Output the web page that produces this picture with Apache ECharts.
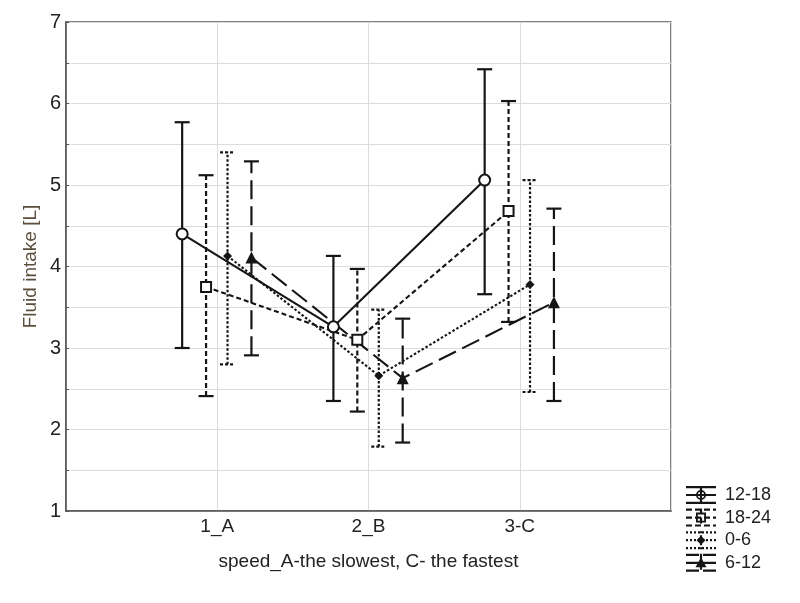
<!DOCTYPE html>
<html>
<head>
<meta charset="utf-8">
<script src="https://cdn.jsdelivr.net/npm/echarts@6/dist/echarts.min.js"></script>
<style>html,body{margin:0;padding:0;background:#fff}#chart{width:800px;height:603px}</style>
</head>
<body>
<div id="chart"></div>
<script>
// ---- data ----
const categories = ['1_A', '2_B', '3-C'];
const groups = ['12-18', '18-24', '0-6', '6-12'];
const yTicks = [1, 2, 3, 4, 5, 6, 7];

const mean_12_18  = [4.40, 3.26, 5.06];
const lower_12_18 = [3.00, 2.35, 3.66];
const upper_12_18 = [5.77, 4.13, 6.42];

const mean_18_24  = [3.75, 3.10, 4.68];
const lower_18_24 = [2.41, 2.22, 3.32];
const upper_18_24 = [5.12, 3.97, 6.03];

const mean_0_6  = [4.13, 2.66, 3.78];
const lower_0_6 = [2.80, 1.79, 2.46];
const upper_0_6 = [5.40, 3.47, 5.06];

const mean_6_12  = [4.11, 2.63, 3.56];
const lower_6_12 = [2.91, 1.84, 2.35];
const upper_6_12 = [5.29, 3.36, 4.71];

// ---- layout / style ----
const offsets = [-0.232, -0.074, 0.068, 0.226];
const INK = '#151515';
const dashes = [null, [5, 3], [2.5, 2], [19, 7]];
const symbols = ['circle', 'rect', 'diamond', 'triangle'];
const symbolSizes = [11, 10, 9, 12];
const hollow = [true, true, false, false];
const FONT = 'Liberation Sans, Arial, sans-serif';

const means = [mean_12_18, mean_18_24, mean_0_6, mean_6_12];
const lowers = [lower_12_18, lower_18_24, lower_0_6, lower_6_12];
const uppers = [upper_12_18, upper_18_24, upper_0_6, upper_6_12];

// legend icon builder (30 x 18 box)
function hseg(y0, y1, segs) {
  return segs.map(s => `M${s[0]} ${y0}H${s[1]}V${y1}H${s[0]}Z`).join('');
}
function vseg(x0, x1, segs) {
  return segs.map(s => `M${x0} ${s[0]}H${x1}V${s[1]}H${x0}Z`).join('');
}
function segsOf(len, dash, gap) {
  if (!dash) return [[0, len]];
  const out = []; let p = 0;
  while (p < len) { out.push([p, Math.min(len, p + dash)]); p += dash + gap; }
  return out;
}
function iconFor(i) {
  const d = [null, [6, 3], [2, 2], [13, 4]][i];
  const h = d ? segsOf(30, d[0], d[1]) : segsOf(30);
  const v = d ? segsOf(18, Math.min(d[0], 6), d[1]) : segsOf(18);
  let p = hseg(0, 2.2, h) + hseg(15.8, 18, h) + hseg(7.9, 10.1, h) + vseg(13.9, 16.1, v);
  if (i === 0) {
    p += 'M20 9A5 5 0 1 1 10 9A5 5 0 1 1 20 9Z';
    p += 'M18.2 9A3.2 3.2 0 1 0 11.8 9A3.2 3.2 0 1 0 18.2 9Z';
  } else if (i === 1) {
    p += 'M10 4H20V14H10Z';
    p += 'M11.8 5.8V12.2H18.2V5.8Z';
  } else if (i === 2) {
    p += 'M15 4.5L19.5 9L15 13.5L10.5 9Z';
  } else {
    p += 'M15 3.5L20.5 13.5H9.5Z';
  }
  return 'path://' + p;
}

const series = [];
groups.forEach((g, i) => {
  const pts = categories.map((c, k) => [k + 1 + offsets[i], means[i][k]]);
  const bars = categories.map((c, k) => [k + 1 + offsets[i], lowers[i][k], uppers[i][k]]);
  series.push({
    name: g,
    type: 'custom',
    z: 2,
    data: bars,
    renderItem: function (params, api) {
      const x = api.value(0);
      const lo = api.coord([x, api.value(1)]);
      const hi = api.coord([x, api.value(2)]);
      const w = 7.5;
      const st = { stroke: INK, lineWidth: 2.2, lineDash: dashes[i] || null, fill: null };
      const capSt = { stroke: INK, lineWidth: 2.2, fill: null, lineDash: i === 2 ? [3, 2] : null };
      return {
        type: 'group',
        children: [
          { type: 'line', shape: { x1: lo[0], y1: lo[1], x2: hi[0], y2: hi[1] }, style: st },
          { type: 'line', shape: { x1: lo[0] - w, y1: lo[1], x2: lo[0] + w, y2: lo[1] }, style: capSt },
          { type: 'line', shape: { x1: hi[0] - w, y1: hi[1], x2: hi[0] + w, y2: hi[1] }, style: capSt }
        ]
      };
    }
  });
  series.push({
    name: g,
    type: 'line',
    z: 3,
    data: pts,
    symbol: symbols[i],
    symbolSize: symbolSizes[i],
    showAllSymbol: true,
    lineStyle: { color: INK, width: 2.1, type: dashes[i] || 'solid' },
    itemStyle: hollow[i]
      ? { color: '#fff', borderColor: INK, borderWidth: 2 }
      : { color: INK, borderColor: INK, borderWidth: 0 },
    emphasis: { disabled: true },
    animation: false
  });
});

const chart = echarts.init(document.getElementById('chart'));
chart.setOption({
  animation: false,
  backgroundColor: '#fff',
  textStyle: { fontFamily: FONT },
  grid: {
    left: 66, right: 129, top: 22, bottom: 92,
    show: true, borderColor: '#555', borderWidth: 1.5, backgroundColor: 'transparent'
  },
  legend: {
    orient: 'vertical',
    left: 686,
    top: 486,
    padding: 0,
    itemWidth: 30,
    itemHeight: 18,
    itemGap: 4.6,
    selectedMode: false,
    textStyle: { fontSize: 18, color: '#222', fontFamily: FONT, padding: [0, 0, 0, 4] },
    data: groups.map((g, i) => ({
      name: g,
      icon: iconFor(i),
      itemStyle: { color: INK, borderWidth: 0 }
    }))
  },
  xAxis: {
    type: 'value',
    min: 0,
    max: categories.length + 1,
    interval: 1,
    name: 'speed_A-the slowest, C- the fastest',
    nameLocation: 'middle',
    nameGap: 41,
    nameMoveOverlap: false,
    nameTextStyle: { fontSize: 19, color: '#222', fontFamily: FONT },
    axisLine: { show: true, lineStyle: { color: '#555', width: 1.5 } },
    axisTick: { show: false },
    axisLabel: {
      fontSize: 19, color: '#222', margin: 6, fontFamily: FONT,
      formatter: v => (v >= 1 && v <= categories.length ? categories[v - 1] : '')
    },
    splitLine: { show: true, lineStyle: { color: '#dcdcdc', width: 1 } }
  },
  yAxis: {
    type: 'value',
    min: yTicks[0],
    max: yTicks[yTicks.length - 1],
    interval: 0.5,
    name: 'Fluid intake [L]',
    nameLocation: 'middle',
    nameGap: 26,
    nameRotate: 90,
    nameMoveOverlap: false,
    nameTextStyle: { fontSize: 19, color: '#5b4e3d', fontFamily: FONT },
    axisLine: { show: true, lineStyle: { color: '#555', width: 1.5 } },
    axisTick: { show: true, inside: true, length: 3, lineStyle: { color: '#555' } },
    axisLabel: {
      fontSize: 20, color: '#222', margin: 5, fontFamily: FONT,
      formatter: v => (yTicks.indexOf(v) >= 0 ? String(v) : '')
    },
    splitLine: { show: true, lineStyle: { color: '#dcdcdc', width: 1 } }
  },
  series: series
});
</script>
</body>
</html>
